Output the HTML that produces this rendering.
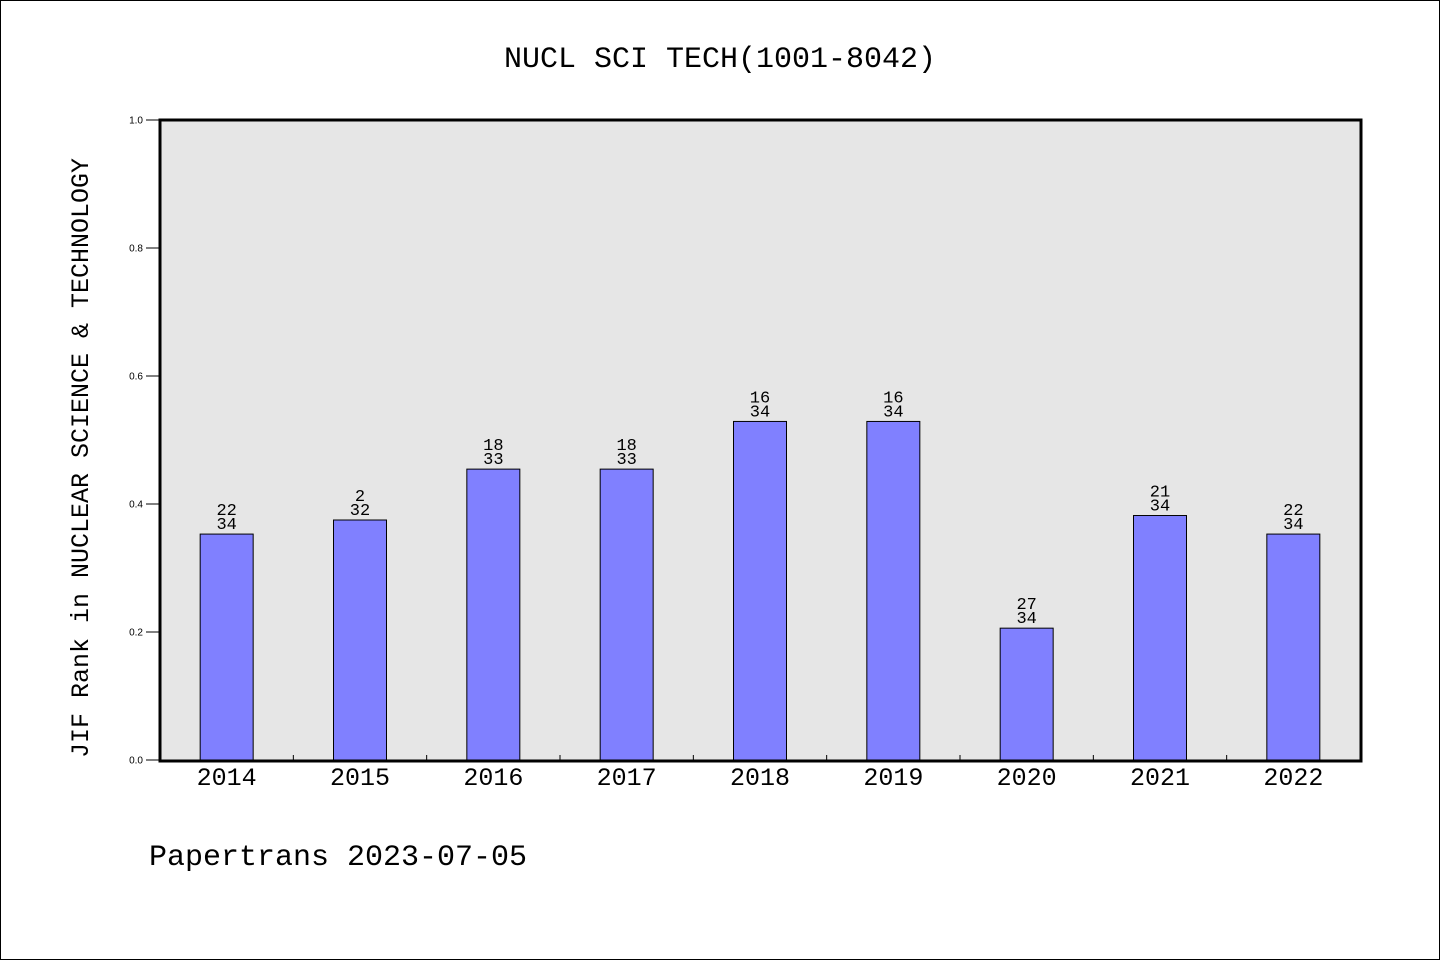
<!DOCTYPE html>
<html><head><meta charset="utf-8">
<style>
html,body{margin:0;padding:0;background:#fff;}
body{width:1440px;height:960px;overflow:hidden;}
svg text{font-family:"Liberation Mono","DejaVu Sans Mono",monospace;}
svg text.yt{font-family:"Liberation Sans",sans-serif;}
</style></head>
<body>
<svg id="chart" width="1440" height="960" xmlns="http://www.w3.org/2000/svg">
<rect x="0.5" y="0.5" width="1439" height="959" fill="#fff" stroke="#000" stroke-width="1"/>
<text x="720" y="67" font-size="30" text-anchor="middle">NUCL SCI TECH(1001-8042)</text>
<rect x="160" y="120" width="1201" height="641" fill="#e6e6e6"/>
<g id="bars"></g>
<rect x="160" y="120" width="1201" height="641" fill="none" stroke="#000" stroke-width="3"/>
<g id="axes"></g>
<text transform="translate(88,458) rotate(-90)" font-size="25" text-anchor="middle">JIF Rank in NUCLEAR SCIENCE &amp; TECHNOLOGY</text>
<text x="149" y="865" font-size="30">Papertrans 2023-07-05</text>
</svg>
<script>
const categories = ["2014","2015","2016","2017","2018","2019","2020","2021","2022"];
const values = [0.353, 0.375, 0.4545, 0.4545, 0.529, 0.529, 0.206, 0.382, 0.353];
const rankLabels = ["22","2","18","18","16","16","27","21","22"];
const totalLabels = ["34","32","33","33","34","34","34","34","34"];
const yTicks = [0.0, 0.2, 0.4, 0.6, 0.8, 1.0];

const X0 = 160, X1 = 1360, Y0 = 760, Y1 = 120;
const band = (X1 - X0) / categories.length;
const xc = i => X0 + band * (i + 0.5);
const y = v => Y0 - (v) * (Y0 - Y1);
const NS = "http://www.w3.org/2000/svg";
const mk = (tag, attrs, parent) => { const e = document.createElementNS(NS, tag); for (const k in attrs) e.setAttribute(k, attrs[k]); parent.appendChild(e); return e; };
const bars = document.getElementById("bars"), axes = document.getElementById("axes");
const bw = 53;
categories.forEach((c, i) => {
  const r = mk("rect", {x: xc(i) - bw/2, y: y(values[i]), width: bw, height: Y0 - y(values[i]), fill: "#8080ff", stroke: "#000", "stroke-width": 1}, bars);
  
  
  const t1 = mk("text", {x: xc(i), y: y(values[i]) - 19, "font-size": 17, "text-anchor": "middle"}, bars);
  t1.textContent = rankLabels[i];
  
  
  const t2 = mk("text", {x: xc(i), y: y(values[i]) - 5, "font-size": 17, "text-anchor": "middle"}, bars);
  t2.textContent = totalLabels[i];
  
  
  const xl = mk("text", {x: xc(i), y: 785, "font-size": 25, "text-anchor": "middle"}, axes);
  xl.textContent = c;
  
  
  if (i > 0) {
    const tk = mk("line", {x1: X0 + band*i, x2: X0 + band*i, y1: 760, y2: 755, stroke: "#000", "stroke-width": 1}, axes);
    
    
  }
});
yTicks.forEach(v => {
  const ln = mk("line", {x1: 146, x2: 160, y1: y(v), y2: y(v), stroke: "#000", "stroke-width": 1}, axes);
  
  
  const t = mk("text", {x: 143, y: y(v) + 3.5, "font-size": 10, "text-anchor": "end", "class": "yt"}, axes);
  t.textContent = v.toFixed(1);
  
  
});
</script>
</body></html>
